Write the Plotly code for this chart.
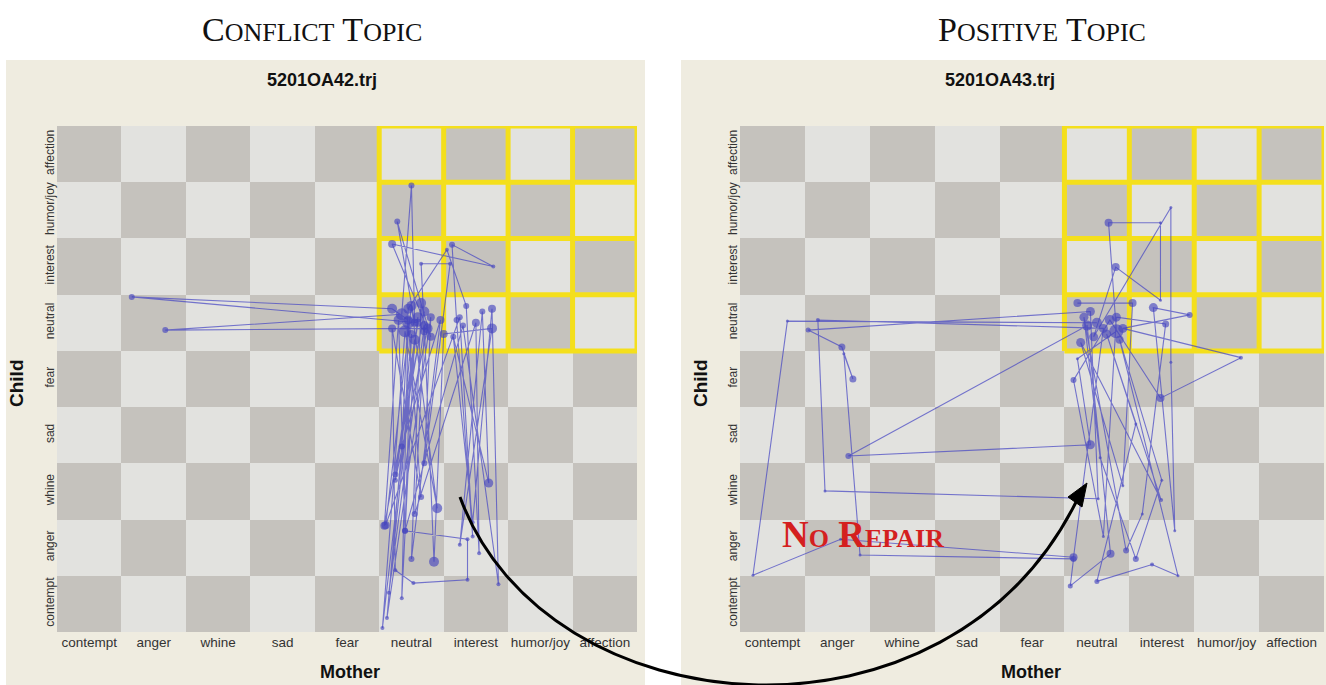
import plotly.graph_objects as go

W, H = 1326, 685

# ---------------- data ----------------
emotions = ["contempt", "anger", "whine", "sad", "fear",
            "neutral", "interest", "humor/joy", "affection"]
positive_from = 5  # index of "neutral": positive region starts here

panel_titles = ["5201OA42.trj", "5201OA43.trj"]
panel_headings = ["CONFLICT TOPIC", "POSITIVE TOPIC"]

# Conflict topic trajectory (mother index, child index, dot size)
conflict_mother = [4.95, 4.70, 0.66, 5.10, 4.75, 5.25, 1.18, 4.85, 5.00, 5.05,
                   4.78, 5.30, 4.70, 6.27, 5.63, 5.70, 5.95, 5.75, 4.60, 5.00,
                   5.40, 4.90, 4.55, 5.10, 4.65, 5.20, 5.35, 5.50, 6.25, 5.75,
                   6.10, 6.20, 5.65, 5.95, 6.25, 6.35, 5.80, 4.90, 4.80, 4.58,
                   5.20, 4.75, 5.05, 4.85, 4.95, 5.15, 4.70, 4.75, 5.03, 5.87,
                   5.87, 4.90, 5.00, 4.62, 5.30, 5.20, 5.60, 5.15, 5.20, 5.05,
                   6.00, 6.05, 5.85, 5.55, 4.95, 4.85, 5.45, 5.00, 5.15]
conflict_child = [5.05, 5.25, 5.46, 5.00, 2.20, 4.90, 4.87, 5.15, 7.44, 5.00,
                  6.80, 4.75, 6.40, 6.00, 6.39, 5.05, 1.20, 5.10, 1.40, 5.30,
                  1.70, 4.85, -0.43, 5.10, 0.20, 4.95, 0.75, 4.80, 4.90, 1.05,
                  5.20, 2.15, 4.75, 1.45, 5.25, 0.35, 4.95, 1.30, 5.05, 1.39,
                  5.20, 2.30, 4.70, 0.10, 5.00, 1.90, 4.90, 0.60, 0.37, 0.43,
                  1.15, 1.30, 4.80, -0.25, 5.10, 2.50, 6.05, 6.05, 4.85, 1.60,
                  5.00, 0.90, 5.30, 6.30, 5.25, 2.80, 5.05, 0.80, 5.35]
conflict_size = [9, 10, 6, 8, 5, 10, 6, 12, 6, 8,
                 6, 8, 8, 4, 6, 6, 4, 6, 8, 10,
                 10, 12, 4, 10, 4, 9, 10, 8, 10, 4,
                 6, 9, 6, 4, 8, 4, 6, 6, 10, 8,
                 10, 6, 10, 4, 12, 6, 8, 4, 4, 4,
                 4, 6, 8, 4, 8, 6, 4, 4, 8, 6,
                 8, 4, 6, 4, 10, 6, 8, 6, 10]

# Positive topic trajectory
positive_mother = [5.00, 0.23, -0.30, 1.05, 4.64, 5.10, 0.70, 0.81, 5.02, 4.90,
                   0.55, 1.07, 1.24, 1.10, 1.35, 4.64, 4.59, 5.21, 4.85, 1.17,
                   4.90, 4.70, 5.30, 5.18, 5.98, 5.98, 5.29, 4.95, 6.14, 6.14,
                   6.20, 5.87, 6.43, 5.40, 7.22, 5.98, 5.20, 4.64, 5.10, 5.30,
                   6.06, 5.70, 5.45, 4.80, 5.05, 5.60, 6.00, 5.35, 6.25, 5.85,
                   5.00, 5.60, 5.15, 5.99, 4.75, 5.40, 5.55, 4.70]
positive_child = [5.00, 5.03, 0.51, 1.15, 0.83, 4.90, 5.05, 2.01, 1.87, 5.20,
                  4.87, 4.57, 4.00, 4.45, 0.87, 0.80, 0.32, 0.89, 4.95, 2.63,
                  2.83, 4.36, 4.85, 6.78, 6.78, 5.40, 5.99, 4.75, 7.05, 4.30,
                  1.30, 5.27, 5.14, 4.90, 4.38, 3.66, 5.05, 3.98, 1.20, 5.10,
                  4.98, 1.60, 0.95, 5.10, 2.60, 0.80, 2.20, 4.70, 0.50, 0.70,
                  0.40, 3.20, 4.80, 1.85, 4.65, 2.10, 5.35, 5.35]
positive_size = [10, 3, 3, 3, 8, 9, 4, 3, 3, 9,
                 5, 7, 7, 3, 3, 6, 5, 8, 10, 6,
                 9, 3, 14, 8, 3, 3, 8, 9, 3, 3,
                 3, 9, 6, 9, 4, 8, 10, 6, 3, 9,
                 7, 3, 6, 9, 3, 6, 3, 8, 3, 4,
                 5, 3, 9, 4, 9, 3, 8, 8]

# ---------------- styling ----------------
BEIGE = "#efece0"
DARK = "#c5c2bd"
LIGHT = "#e2e2df"
YELLOW = "#f4df1c"
LINE_C = "rgba(70,70,195,0.72)"
DOT_C = "rgba(68,68,190,0.9)"


def pxx(x):
    return x / W


def pxy(y):
    return 1 - y / H


grid_top, grid_bot = 126, 632
panels = [
    dict(x0=57, x1=637, bg=(6, 645), title_x=322, head_x=312, mother_x=350, child_x=16),
    dict(x0=740, x1=1324, bg=(681, 1326), title_x=1000, head_x=1042, mother_x=1031, child_x=700),
]
trajs = [(conflict_mother, conflict_child, conflict_size),
         (positive_mother, positive_child, positive_size)]

fig = go.Figure()
n = len(emotions)
idx = list(range(n))
z = [[(i + j) % 2 for i in idx] for j in idx]

# yellow grid for the positive region
yl_x, yl_y = [], []
lo, hi = positive_from - 0.5, n - 0.5
for k in range(positive_from, n + 1):
    b = k - 0.5
    yl_x += [lo, hi, None, b, b, None]
    yl_y += [b, b, None, lo, hi, None]

shapes = []
annotations = []


def ann(text, x, y, size, family="Liberation Sans", color="#111", angle=0):
    return dict(text=text, xref="paper", yref="paper", x=pxx(x), y=pxy(y),
                xanchor="center", yanchor="middle", showarrow=False, textangle=angle,
                font=dict(family=family, size=size, color=color))


for p_i, p in enumerate(panels):
    xa = "x" if p_i == 0 else "x2"
    ya = "y" if p_i == 0 else "y2"
    fig.add_trace(go.Heatmap(x=idx, y=idx, z=z, xaxis=xa, yaxis=ya,
                             colorscale=[[0, DARK], [1, LIGHT]], showscale=False,
                             hoverinfo="skip", zmin=0, zmax=1))
    fig.add_trace(go.Scatter(x=yl_x, y=yl_y, xaxis=xa, yaxis=ya, mode="lines",
                             line=dict(color=YELLOW, width=5), hoverinfo="skip",
                             showlegend=False, cliponaxis=False))
    m, c, s = trajs[p_i]
    fig.add_trace(go.Scatter(x=m, y=c, xaxis=xa, yaxis=ya, mode="lines+markers",
                             line=dict(color=LINE_C, width=1.1),
                             marker=dict(color=DOT_C, size=s, line=dict(width=0)),
                             showlegend=False))
    shapes.append(dict(type="rect", xref="paper", yref="paper", layer="below",
                       x0=pxx(p["bg"][0]), x1=pxx(p["bg"][1]), y0=0, y1=pxy(60),
                       fillcolor=BEIGE, line=dict(width=0)))
    annotations.append(ann("<b>%s</b>" % panel_titles[p_i], p["title_x"], 80, 18))
    words = panel_headings[p_i].split(" ")
    html = " ".join("%s<span style='font-size:26px'>%s</span>" % (w[0], w[1:]) for w in words)
    annotations.append(ann(html, p["head_x"], 30, 34, family="Liberation Serif"))
    annotations.append(ann("<b>Mother</b>", p["mother_x"], 672, 18))
    annotations.append(ann("<b>Child</b>", p["child_x"], 383, 19, angle=-90))

axis_common = dict(showgrid=False, zeroline=False, showline=False, ticks="",
                   range=[-0.5, n - 0.5], tickvals=idx, ticktext=emotions,
                   fixedrange=True)
xdom = [[pxx(p["x0"]), pxx(p["x1"])] for p in panels]
ydom = [pxy(grid_bot), pxy(grid_top)]

# "No Repair" label
annotations.append(ann("<b>N<span style='font-size:26px'>O</span> R<span style='font-size:26px'>EPAIR</span></b>",
                       863, 534, 37, family="Liberation Serif", color="#d41f1f"))


def pt(x, y):
    return "%.5f,%.5f" % (pxx(x), pxy(y))


arrow_path = "M %s C %s %s %s" % (pt(460, 497), pt(545, 730), pt(950, 765), pt(1079, 496))
shapes.append(dict(type="path", xref="paper", yref="paper", path=arrow_path,
                   line=dict(color="#000", width=3), layer="above"))
head_path = "M %s L %s L %s Z" % (pt(1087, 483), pt(1082, 507), pt(1068, 497))
shapes.append(dict(type="path", xref="paper", yref="paper", path=head_path,
                   fillcolor="#000", line=dict(color="#000", width=1), layer="above"))

fig.update_layout(
    width=W, height=H, margin=dict(l=0, r=0, t=0, b=0),
    paper_bgcolor="white", plot_bgcolor="rgba(0,0,0,0)",
    showlegend=False, shapes=shapes, annotations=annotations,
    xaxis=dict(domain=xdom[0], anchor="y", **axis_common,
               tickfont=dict(family="Liberation Sans", size=13.5, color="#333")),
    yaxis=dict(domain=ydom, anchor="x", **axis_common, tickangle=-90,
               tickfont=dict(family="Liberation Sans", size=12, color="#333")),
    xaxis2=dict(domain=xdom[1], anchor="y2", **axis_common,
                tickfont=dict(family="Liberation Sans", size=13.5, color="#333")),
    yaxis2=dict(domain=ydom, anchor="x2", **axis_common, tickangle=-90,
                tickfont=dict(family="Liberation Sans", size=12, color="#333")),
)

fig.write_html("out.html", config={"displayModeBar": False},
               post_script="document.body.style.margin='0px';document.body.style.overflow='hidden';")
